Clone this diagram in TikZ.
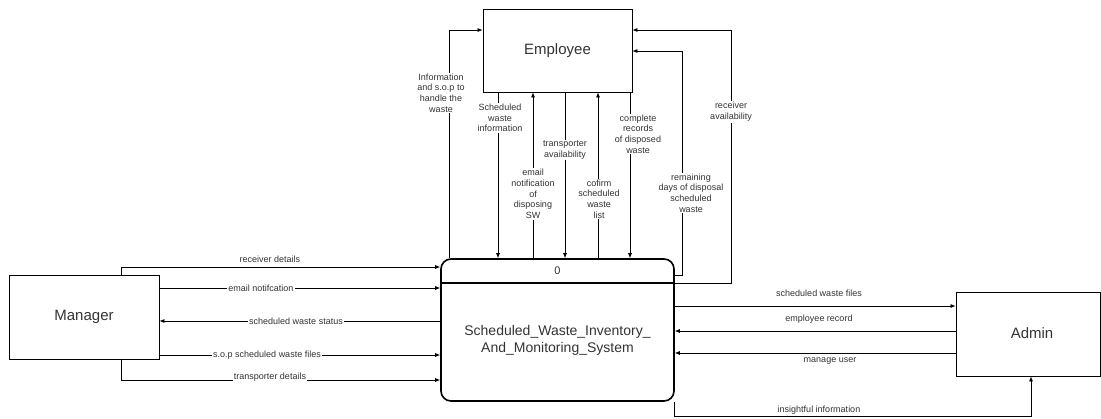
\documentclass[tikz,border=0pt]{standalone}
\usepackage{fontspec}
\setmainfont{Liberation Sans}
\usetikzlibrary{arrows.meta,calc}
\definecolor{txt}{HTML}{333333}
\tikzset{
  ent/.style={draw=black, line width=0.8pt, rectangle, inner sep=0pt, text=txt, font=\fontsize{15}{18}\selectfont},
  proc/.style={draw=black, line width=1.6pt, rectangle, rounded corners=10pt, inner sep=0pt},
  flow/.style={draw=black, line width=0.7pt, -{Latex[length=5pt,width=4pt]}},
  lbl/.style={text=txt, font=\fontsize{9}{10.7}\selectfont, align=center, inner sep=1pt},
  lblw/.style={lbl, fill=white},
}
\begin{document}
\begin{tikzpicture}[x=1pt,y=-1pt]
\useasboundingbox (0,0) rectangle (1101,418);
% entities
\node[ent, minimum width=149pt, minimum height=83pt] (emp) at (557.5,50.5) {Employee};
\node[ent, minimum width=150pt, minimum height=84pt] (mgr) at (84,317) {Manager};
\node[ent, minimum width=144pt, minimum height=84pt] (adm) at (1028,334) {};
\node[text=txt, font=\fontsize{15}{18}\selectfont] (admt) at (1032,333) {Admin};
\node[proc, minimum width=233pt, minimum height=142pt] (proc) at (557.5,330) {};
\draw[line width=1.2pt] (proc.west |- 0,283) -- (proc.east |- 0,283);
\node[text=txt, font=\fontsize{11}{13}\selectfont] (pnum) at (557.5,271) {0};
\node[text=txt, font=\fontsize{14}{17}\selectfont, align=center] (pname) at (557.5,340) {Scheduled\_Waste\_Inventory\_\\And\_Monitoring\_System};

% Manager flows
\draw[flow] (121,0 |- mgr.north) |- (proc.west |- 0,267);
\node[lbl] (l1) at (270,259) {receiver details};
\draw[flow] (mgr.east |- 0,288) -- (proc.west |- 0,288);
\node[lblw] (l2) at (261,288) {email notifcation};
\draw[flow] (proc.west |- 0,321) -- (mgr.east |- 0,321);
\node[lblw] (l3) at (296,321) {scheduled waste status};
\draw[flow] (mgr.east |- 0,355) -- (proc.west |- 0,355);
\node[lblw] (l4) at (267,355) {s.o.p scheduled waste files};
\draw[flow] (121,0 |- mgr.south) |- (proc.west |- 0,380);
\node[lblw] (l5) at (270,377) {transporter details};

% Admin flows
\draw[flow] (proc.east |- 0,306) -- (adm.west |- 0,306);
\node[lbl] (l6) at (819,293) {scheduled waste files};
\draw[flow] (adm.west |- 0,331) -- (proc.east |- 0,331);
\node[lbl] (l7) at (819,319) {employee record};
\draw[flow] (adm.west |- 0,353) -- (proc.east |- 0,353);
\node[lbl] (l8) at (830,361) {manage user};
\coordinate (ib) at (674,416);
\draw[flow] (674,0 |- proc.south) -- (ib) -| (1031,0 |- adm.south);
\node[lblw] (l9) at (819,410) {insightful information};

% Employee flows
\draw[flow] (449,0 |- proc.north) |- (emp.west |- 0,30);
\node[lblw] (l10) at (441,93) {Information\\and s.o.p to\\handle the\\waste};
\draw[flow] (498,0 |- emp.south) -- (498,0 |- proc.north);
\node[lblw] (l11) at (500,118) {Scheduled\\waste\\information};
\draw[flow] (533,0 |- proc.north) -- (533,0 |- emp.south);
\node[lblw] (l12) at (533,194) {email\\notification\\of\\disposing\\SW};
\draw[flow] (565,0 |- emp.south) -- (565,0 |- proc.north);
\node[lblw] (l13) at (565,150) {transporter\\availability};
\draw[flow] (598,0 |- proc.north) -- (598,0 |- emp.south);
\node[lblw] (l14) at (599,199) {cofirm\\scheduled\\waste\\list};
\draw[flow] (630,0 |- emp.south) -- (630,0 |- proc.north);
\node[lblw] (l15) at (638,134) {complete\\records\\of disposed\\waste};
\coordinate (r1) at (682,275);
\coordinate (r2) at (682,51);
\draw[flow] (proc.east |- r1) -- (r1) -- (r2) -- (emp.east |- r2);
\node[lblw] (l16) at (691,193) {remaining\\days of disposal\\scheduled\\waste};
\coordinate (s1) at (731,283);
\coordinate (s2) at (731,30);
\draw[flow] (proc.east |- s1) -- (s1) -- (s2) -- (emp.east |- s2);
\node[lblw] (l17) at (731,112) {receiver\\availability};
\end{tikzpicture}
\end{document}
